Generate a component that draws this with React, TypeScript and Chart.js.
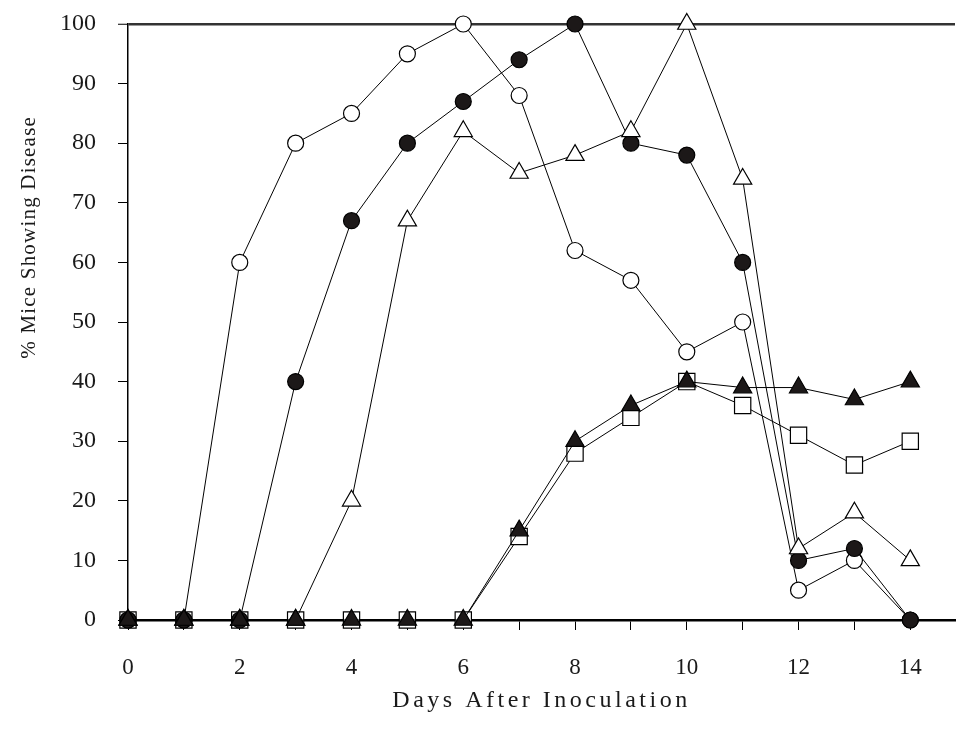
import React, { useEffect, useRef } from "react";
import { Chart, registerables } from "chart.js";

Chart.register(...registerables);

const days = [0, 1, 2, 3, 4, 5, 6, 7, 8, 9, 10, 11, 12, 13, 14];
const openCircles = [0, 0, 60, 80, 85, 95, 100, 88, 62, 57, 45, 50, 5, 10, 0];
const filledCircles = [0, 0, 0, 40, 67, 80, 87, 94, 100, 80, 78, 60, 10, 12, 0];
const openTriangles = [0, 0, 0, 0, 20, 67, 82, 75, 78, 82, 100, 74, 12, 18, 10];
const filledTriangles = [0, 0, 0, 0, 0, 0, 0, 15, 30, 36, 40, 39, 39, 37, 40];
const openSquares = [0, 0, 0, 0, 0, 0, 0, 14, 28, 34, 40, 36, 31, 26, 30];

const xTitle = "Days After Inoculation";
const yTitle = "% Mice Showing Disease";

const DARK = "#1c1818";
const FONT = "'Liberation Serif', 'DejaVu Serif', serif";

const toPoints = (vals: number[]) => days.map((d, i) => ({ x: d, y: vals[i] }));

const titlesPlugin = {
  id: "titles",
  afterDraw(chart: any) {
    const { ctx, chartArea } = chart;
    const h = chartArea.bottom - chartArea.top;
    ctx.save();
    ctx.fillStyle = "#1a1a1a";
    ctx.textAlign = "center";
    ctx.textBaseline = "middle";
    ctx.font = `24px ${FONT}`;
    (ctx as any).letterSpacing = "3.5px";
    ctx.fillText(xTitle, (chartArea.left + chartArea.right) / 2, chartArea.bottom + 81);
    ctx.font = `21px ${FONT}`;
    (ctx as any).letterSpacing = "1.2px";
    ctx.translate(29, chartArea.top + h * 0.358);
    ctx.rotate(-Math.PI / 2);
    ctx.fillText(yTitle, 0, 0);
    ctx.restore();
  },
};

export default function App() {
  const ref = useRef<HTMLCanvasElement | null>(null);

  useEffect(() => {
    if (!ref.current) return;
    const common = {
      showLine: true,
      borderColor: "#000",
      borderWidth: 1,
      pointBorderColor: "#000",
      pointBorderWidth: 1.2,
      clip: false as any,
      tension: 0,
      fill: false,
    };
    const chart = new Chart(ref.current, {
      type: "line",
      data: {
        datasets: [
          { ...common, label: "open circles", data: toPoints(openCircles), pointStyle: "circle", pointRadius: 8, pointBackgroundColor: "#fff", order: 3 },
          { ...common, label: "filled circles", data: toPoints(filledCircles), pointStyle: "circle", pointRadius: 8, pointBackgroundColor: DARK, order: 2 },
          { ...common, label: "open triangles", data: toPoints(openTriangles), pointStyle: "triangle", pointRadius: 10.5, pointBackgroundColor: "#fff", order: 1 },
          { ...common, label: "filled triangles", data: toPoints(filledTriangles), pointStyle: "triangle", pointRadius: 10.5, pointBackgroundColor: DARK, order: 0 },
          { ...common, label: "open squares", data: toPoints(openSquares), pointStyle: "rect", pointRadius: 11.5, pointBackgroundColor: "#fff", order: 4 },
        ],
      },
      options: {
        responsive: false,
        animation: false,
        events: [],
        layout: { autoPadding: false, padding: { top: 24, right: 1, left: 0, bottom: 0 } },
        plugins: {
          legend: { display: false },
          tooltip: { enabled: false },
        },
        scales: {
          x: {
            type: "linear",
            min: 0,
            max: 14.8,
            afterFit: (scale: any) => {
              scale.height = 113;
            },
            ticks: {
              stepSize: 1,
              includeBounds: false,
              autoSkip: false,
              maxRotation: 0,
              padding: 24,
              color: "#1a1a1a",
              font: { family: FONT, size: 23 },
              callback: (v: any) => (Math.round(Number(v)) % 2 === 0 ? String(Math.round(Number(v))) : ""),
            },
            grid: {
              drawOnChartArea: false,
              drawTicks: true,
              tickLength: 10,
              color: "#000",
              lineWidth: 1,
            },
            border: { display: true, color: "#000", width: 2.5 },
          },
          y: {
            type: "linear",
            min: 0,
            max: 100,
            afterFit: (scale: any) => {
              scale.width = 128;
              scale.paddingTop = 0;
            },
            ticks: {
              stepSize: 10,
              padding: 22,
              color: "#1a1a1a",
              font: { family: FONT, size: 24 },
            },
            grid: {
              drawOnChartArea: true,
              drawTicks: true,
              tickLength: 10,
              color: (c: any) => (c.tick && c.tick.value === 100 ? "#333" : "rgba(0,0,0,0)"),
              lineWidth: (c: any) => (c.tick && c.tick.value === 100 ? 2.5 : 1),
              tickColor: "#000",
              tickWidth: 1,
            },
            border: { display: true, color: "#000", width: 1.5 },
          },
        },
      },
      plugins: [titlesPlugin],
    });
    return () => chart.destroy();
  }, []);

  return (
    <div style={{ position: "absolute", left: 0, top: 0, width: 956, height: 733, background: "#fff" }}>
      <canvas ref={ref} width={956} height={733} style={{ display: "block" }} />
    </div>
  );
}
